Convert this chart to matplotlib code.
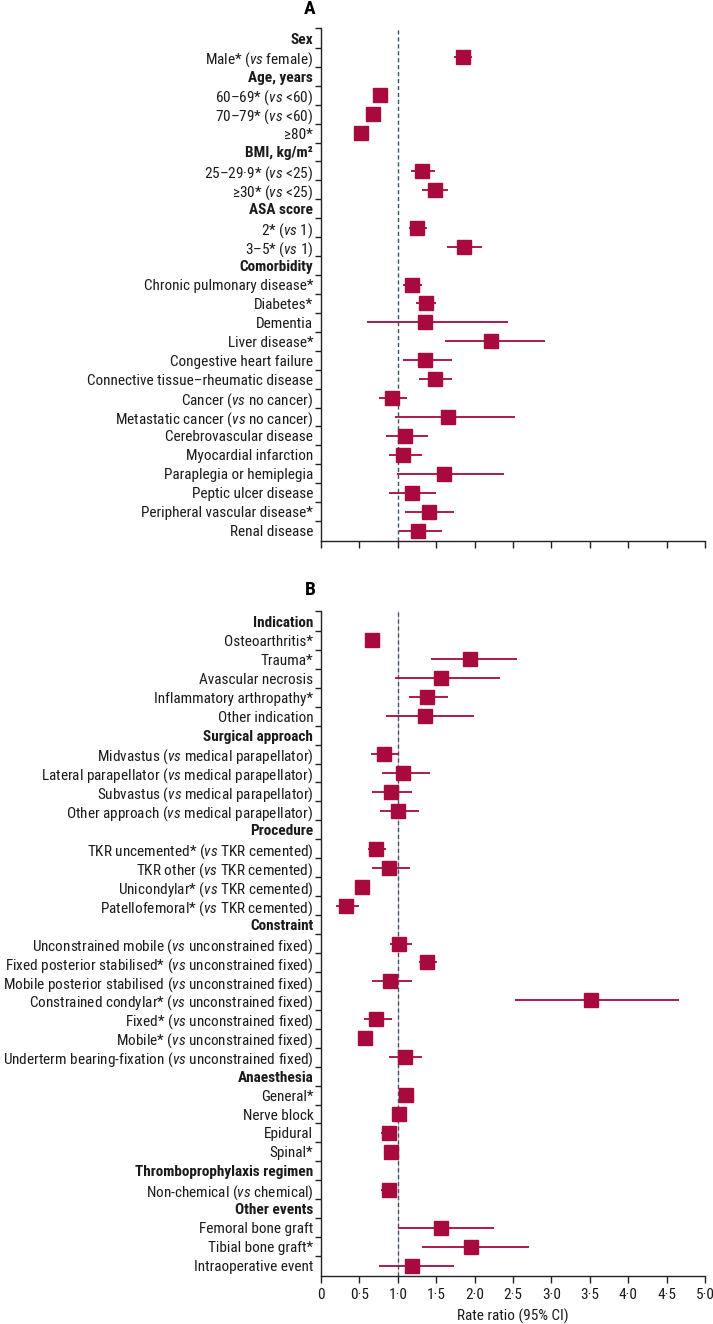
import os
import numpy as np
import matplotlib
matplotlib.use("Agg")
import matplotlib.pyplot as plt
from matplotlib import font_manager as fm

# narrow fonts to try, in order: (regular, bold, italic) file names
NARROW_SETS = [
    ('RobotoCondensed-Regular.ttf', 'RobotoCondensed-Bold.ttf', 'RobotoCondensed-Italic.ttf'),
    ('NotoSans-Condensed.ttf', 'NotoSans-CondensedBold.ttf', 'NotoSans-CondensedItalic.ttf'),
    ('NotoSans-Condensed-Regular.ttf', 'NotoSans-Condensed-Bold.ttf', 'NotoSans-Condensed-Italic.ttf'),
    ('LiberationSansNarrow-Regular.ttf', 'LiberationSansNarrow-Bold.ttf', 'LiberationSansNarrow-Italic.ttf'),
    ('DejaVuSansCondensed.ttf', 'DejaVuSansCondensed-Bold.ttf', 'DejaVuSansCondensed-Oblique.ttf'),
]


def setup_font():
    files = {}
    for f in fm.fontManager.ttflist:
        files.setdefault(os.path.basename(f.fname), f.fname)
    for reg, bold, ital in NARROW_SETS:
        if reg in files and bold in files:
            fm.fontManager.ttflist.append(fm.FontEntry(fname=files[reg], name='NarrowX', weight=400))
            fm.fontManager.ttflist.append(fm.FontEntry(fname=files[bold], name='NarrowX', weight=700))
            if ital in files:
                fm.fontManager.ttflist.append(fm.FontEntry(fname=files[ital], name='NarrowX',
                                                           style='italic', weight=400))
            return 'NarrowX', 11
    return 'DejaVu Sans', 8.5


FAMILY, FS = setup_font()
plt.rcParams['font.family'] = [FAMILY, 'DejaVu Sans']
plt.rcParams['mathtext.fontset'] = 'custom'
plt.rcParams['mathtext.rm'] = FAMILY
plt.rcParams['mathtext.it'] = FAMILY + ':italic'

VS = r'$\mathit{vs}$'
NA = np.nan

# Panel A: patient factors
a_labels = [
    'Sex', 'Male* (' + VS + ' female)',
    'Age, years', '60–69* (' + VS + ' <60)', '70–79* (' + VS + ' <60)', '≥80*',
    'BMI, kg/m²', '25–29·9* (' + VS + ' <25)', '≥30* (' + VS + ' <25)',
    'ASA score', '2* (' + VS + ' 1)', '3–5* (' + VS + ' 1)',
    'Comorbidity', 'Chronic pulmonary disease*', 'Diabetes*', 'Dementia',
    'Liver disease*', 'Congestive heart failure',
    'Connective tissue–rheumatic disease', 'Cancer (' + VS + ' no cancer)',
    'Metastatic cancer (' + VS + ' no cancer)', 'Cerebrovascular disease',
    'Myocardial infarction', 'Paraplegia or hemiplegia', 'Peptic ulcer disease',
    'Peripheral vascular disease*', 'Renal disease',
]
a_headers = ['Sex', 'Age, years', 'BMI, kg/m²', 'ASA score', 'Comorbidity']
a_est = [NA, 1.85, NA, 0.77, 0.68, 0.52, NA, 1.32, 1.48, NA, 1.25, 1.86,
         NA, 1.18, 1.37, 1.36, 2.21, 1.35, 1.48, 0.92, 1.66, 1.10, 1.07,
         1.60, 1.18, 1.41, 1.26]
a_low = [NA, 1.73, NA, 0.68, 0.59, 0.43, NA, 1.17, 1.31, NA, 1.15, 1.64,
         NA, 1.07, 1.24, 0.60, 1.62, 1.07, 1.28, 0.75, 0.97, 0.84, 0.88,
         0.99, 0.88, 1.10, 1.01]
a_high = [NA, 1.97, NA, 0.87, 0.78, 0.62, NA, 1.48, 1.65, NA, 1.38, 2.09,
          NA, 1.31, 1.50, 2.44, 2.92, 1.70, 1.70, 1.12, 2.52, 1.39, 1.31,
          2.38, 1.50, 1.73, 1.57]

# Panel B: surgical factors
b_labels = [
    'Indication', 'Osteoarthritis*', 'Trauma*', 'Avascular necrosis',
    'Inflammatory arthropathy*', 'Other indication',
    'Surgical approach', 'Midvastus (' + VS + ' medical parapellator)',
    'Lateral parapellator (' + VS + ' medical parapellator)',
    'Subvastus (' + VS + ' medical parapellator)',
    'Other approach (' + VS + ' medical parapellator)',
    'Procedure', 'TKR uncemented* (' + VS + ' TKR cemented)',
    'TKR other (' + VS + ' TKR cemented)', 'Unicondylar* (' + VS + ' TKR cemented)',
    'Patellofemoral* (' + VS + ' TKR cemented)',
    'Constraint', 'Unconstrained mobile (' + VS + ' unconstrained fixed)',
    'Fixed posterior stabilised* (' + VS + ' unconstrained fixed)',
    'Mobile posterior stabilised (' + VS + ' unconstrained fixed)',
    'Constrained condylar* (' + VS + ' unconstrained fixed)',
    'Fixed* (' + VS + ' unconstrained fixed)', 'Mobile* (' + VS + ' unconstrained fixed)',
    'Underterm bearing-fixation (' + VS + ' unconstrained fixed)',
    'Anaesthesia', 'General*', 'Nerve block', 'Epidural', 'Spinal*',
    'Thromboprophylaxis regimen', 'Non-chemical (' + VS + ' chemical)',
    'Other events', 'Femoral bone graft', 'Tibial bone graft*',
    'Intraoperative event',
]
b_headers = ['Indication', 'Surgical approach', 'Procedure', 'Constraint',
             'Anaesthesia', 'Thromboprophylaxis regimen', 'Other events']
b_est = [NA, 0.67, 1.94, 1.56, 1.38, 1.35, NA, 0.82, 1.07, 0.91, 1.00,
         NA, 0.71, 0.88, 0.53, 0.33, NA, 1.02, 1.38, 0.90, 3.51, 0.72, 0.57,
         1.09, NA, 1.11, 1.02, 0.88, 0.91, NA, 0.88, NA, 1.56, 1.95, 1.19]
b_low = [NA, 0.57, 1.43, 0.97, 1.15, 0.85, NA, 0.65, 0.79, 0.67, 0.77,
         NA, 0.61, 0.67, 0.46, 0.19, NA, 0.90, 1.27, 0.67, 2.52, 0.56, 0.49,
         0.89, NA, 1.03, 0.95, 0.78, 0.82, NA, 0.78, NA, 1.00, 1.32, 0.75]
b_high = [NA, 0.77, 2.55, 2.33, 1.66, 1.99, NA, 1.02, 1.42, 1.19, 1.28,
          NA, 0.84, 1.16, 0.62, 0.50, NA, 1.18, 1.51, 1.18, 4.66, 0.92, 0.68,
          1.32, NA, 1.19, 1.11, 0.99, 1.00, NA, 0.97, NA, 2.25, 2.71, 1.73]

x_ticks = np.arange(0, 5.01, 0.5)
x_ticklabels = ['0'] + [f'{v:.1f}'.replace('.', '·') for v in x_ticks[1:]]

RED = '#a80a3e'
DASH = '#3a5666'
W, H = 713, 1324


def forest(ax, labels, headers, est, low, high, show_x):
    n = len(labels)
    y = np.arange(n)
    est = np.array(est)
    low = np.array(low)
    high = np.array(high)
    ax.axvline(1, color=DASH, lw=1.0, ls=(0, (3, 2)), zorder=1)
    ax.errorbar(est, y, xerr=[est - low, high - est], fmt='s', color=RED,
                ms=10, elinewidth=1.3, capsize=0, zorder=3)
    ax.set_xlim(0, 5)
    ax.set_ylim(n - 0.45, -0.55)
    ax.spines['top'].set_visible(False)
    ax.spines['right'].set_visible(False)
    for s in ('left', 'bottom'):
        ax.spines[s].set_linewidth(1.0)
        ax.spines[s].set_color('#222222')
    # boundaries as major ticks, row labels as minor ticks
    ax.set_yticks(list(np.arange(n - 1) + 0.5) + [-0.55])
    ax.set_yticklabels([])
    ax.set_yticks(y, minor=True)
    ax.set_yticklabels(labels, minor=True)
    ax.tick_params(axis='y', which='major', length=4.5, width=1.0, color='#222222')
    ax.tick_params(axis='y', which='minor', length=0, pad=5.5, labelsize=FS,
                   labelcolor='#1a1a1a')
    for t, lab in zip(ax.get_yticklabels(minor=True), labels):
        if lab in headers:
            t.set_fontweight('bold')
    ax.set_xticks(x_ticks)
    ax.tick_params(axis='x', length=5, width=1.0, color='#222222', labelsize=FS,
                   labelcolor='#1a1a1a')
    if show_x:
        ax.set_xticklabels(x_ticklabels)
    else:
        ax.set_xticklabels([])


fig = plt.figure(figsize=(W / 100, H / 100), dpi=100)
left, right = 321 / W, 705 / W
ax_a = fig.add_axes([left, 1 - 541 / H, right - left, (541 - 28) / H])
ax_b = fig.add_axes([left, 1 - 1276 / H, right - left, (1276 - 611) / H])

forest(ax_a, a_labels, a_headers, a_est, a_low, a_high, False)
ax_b.axvline(1, color='#eab0c0', lw=0.7, zorder=0)
forest(ax_b, b_labels, b_headers, b_est, b_low, b_high, True)
ax_b.set_xlabel('Rate ratio (95% CI)', fontsize=FS, labelpad=5, color='#1a1a1a')

fig.text(310 / W, 1 - 9 / H, 'A', ha='center', va='center', fontsize=FS + 3,
         fontweight='bold')
fig.text(310 / W, 1 - 590 / H, 'B', ha='center', va='center', fontsize=FS + 3,
         fontweight='bold')

fig.savefig('out.png', dpi=100)
